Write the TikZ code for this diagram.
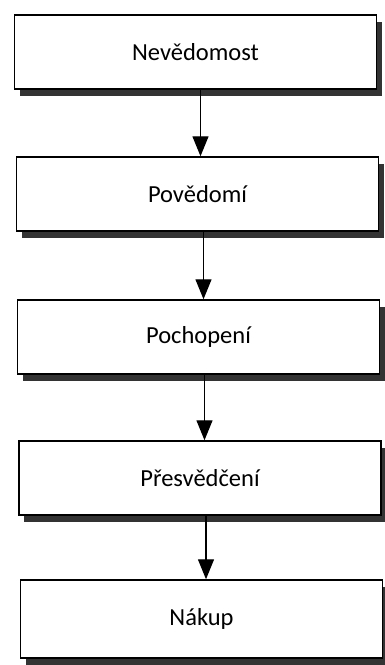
\documentclass[tikz,border=0pt]{standalone}
\usepackage{fontspec}
\setmainfont{Carlito}
\usepackage{tikz}
\usetikzlibrary{arrows.meta}

\begin{document}
\begin{tikzpicture}[
        x=1pt, y=1pt,
        box/.style={draw, line width=1.5pt, fill=white, minimum width=362pt, minimum height=74pt,
                    inner sep=0pt, font=\fontsize{24.5}{28}\selectfont,
                    preaction={fill=black!80, transform canvas={xshift=5pt, yshift=-7pt}}},
        arr/.style={line width=1.3pt, -{Triangle[length=20pt, width=16pt]}}
    ]
        \useasboundingbox (0,0) rectangle (385,-665);

        \node[box] (nev)  at (195.5, -52) {Nevědomost};
        \node[box] (pov)  at (197.5, -194)  {Povědomí};
        \node[box] (poch) at (198.5, -337)  {Pochopení};
        \node[box] (pres) at (200, -478)    {Přesvědčení};
        \node[box, minimum height=78pt] (nak) at (201.5, -619) {Nákup};

        % downward chain, kept vertical
        \draw[arr] ([xshift=5pt]nev.south)  -- ([xshift=5pt]nev.south  |- pov.north);
        \draw[arr] ([xshift=6pt]pov.south)  -- ([xshift=6pt]pov.south  |- poch.north);
        \draw[arr] ([xshift=6pt]poch.south) -- ([xshift=6pt]poch.south |- pres.north);
        \draw[arr] ([xshift=6pt]pres.south) -- ([xshift=6pt]pres.south |- nak.north);
    \end{tikzpicture}
\end{document}
